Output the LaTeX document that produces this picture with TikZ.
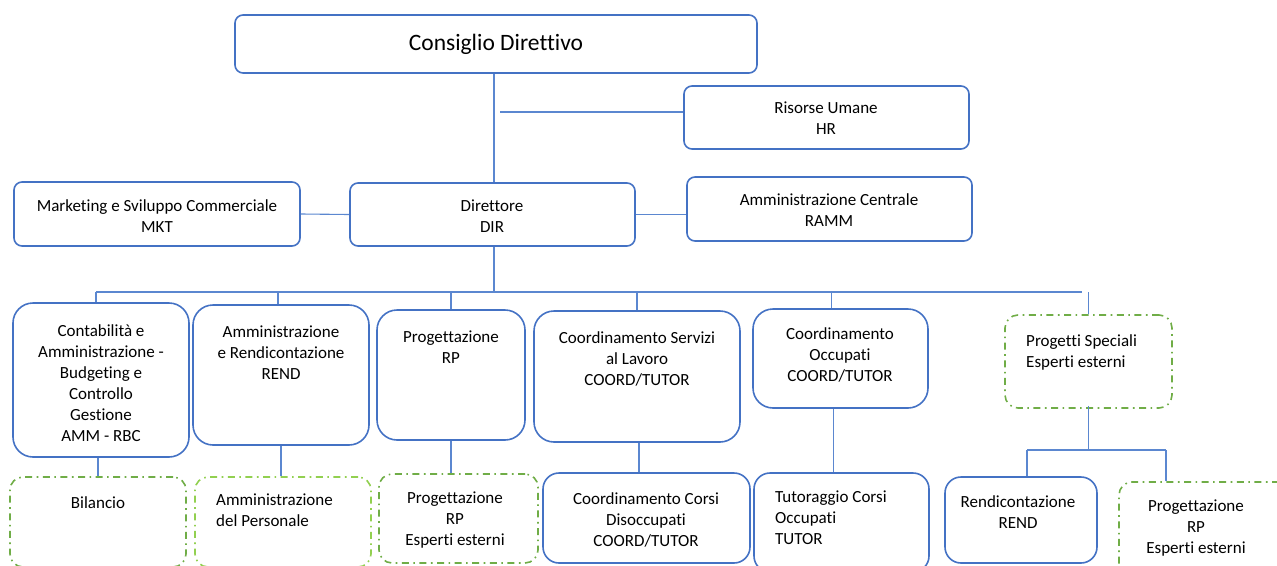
\documentclass[tikz,border=0pt]{standalone}
\usepackage{fontspec}
\setmainfont{Carlito}[Ligatures=NoCommon]
\usetikzlibrary{fit}
\definecolor{boxblue}{HTML}{4472C4}
\definecolor{lineblue}{HTML}{5B87D0}
\definecolor{boxgreen}{HTML}{70AD47}
\definecolor{lightgreen}{HTML}{92D050}
\begin{document}
\begin{tikzpicture}[x=1pt,y=-1pt,
  bluebox/.style={draw=boxblue, line width=1.6pt, rounded corners=#1, inner sep=0pt},
  bluebox/.default=16pt,
  greenbox/.style={draw=boxgreen, line width=1.6pt, rounded corners=13pt, inner sep=0pt,
     dash pattern=on 7pt off 4.5pt on 1.6pt off 4.5pt},
  lgreenbox/.style={greenbox, draw=lightgreen},
  conn/.style={draw=lineblue, line width=1.1pt},
  txt/.style={font=\fontsize{17}{21}\selectfont, align=center, inner sep=0pt, anchor=north,
     execute at begin node=\strut},
  ltxt/.style={txt, align=left, anchor=north west},
  bigtxt/.style={font=\fontsize{23.5}{28}\selectfont, inner sep=0pt, anchor=base}
]
\useasboundingbox (0,0) rectangle (1277,565);

% top level boxes
\node[bluebox=8pt, fit={(235,15) (757,73)}] (cons) {};
\node[bluebox=8pt, fit={(684,86) (969,149)}] (hr) {};
\node[bluebox=8pt, fit={(14,182) (300,246)}] (mkt) {};
\node[bluebox=8pt, fit={(350,183) (635,246)}] (dir) {};
\node[bluebox=8pt, fit={(687,177) (972,241)}] (ammc) {};

\node[bigtxt] (consT) at (496,50) {Consiglio Direttivo};
\node[txt] (hrT) at (826,102) {Risorse Umane\\HR};
\node[txt] (mktT) at (157,199) {Marketing e Sviluppo Commerciale\\MKT};
\node[txt] (dirT) at (492,200) {Direttore\\DIR};
\node[txt] (ammcT) at (829,193) {Amministrazione Centrale\\RAMM};

% second level boxes
\node[bluebox=20pt, fit={(13,303) (189,457)}] (cont) {};
\node[bluebox=20pt, fit={(193,305) (369,445)}] (rend) {};
\node[bluebox=20pt, fit={(377,310) (525,440)}] (prog) {};
\node[bluebox=20pt, fit={(534,311) (740,442)}] (cserv) {};
\node[bluebox=20pt, fit={(753,309) (928,408)}] (cocc) {};
\node[greenbox, fit={(1005,315) (1172,408)}] (pspec) {};

\node[txt] (contT) at (101,324) {Contabilità e\\Amministrazione -\\Budgeting e\\Controllo\\Gestione\\AMM - RBC};
\node[txt] (rendT) at (281,326) {Amministrazione\\e Rendicontazione\\REND};
\node[txt] (progT) at (451,331) {Progettazione\\RP};
\node[txt] (cservT) at (637,331) {Coordinamento Servizi\\al Lavoro\\COORD/TUTOR};
\node[txt] (coccT) at (840,327) {Coordinamento\\Occupati\\COORD/TUTOR};
\node[ltxt] (pspecT) at (1026,334) {Progetti Speciali\\Esperti esterni};

% third level boxes
\node[greenbox, fit={(10,477) (186,567)}] (bil) {};
\node[lgreenbox, fit={(195,477) (371,567)}] (apers) {};
\node[greenbox, fit={(379,474) (538,563)}] (plow) {};
\node[bluebox=16pt, fit={(543,473) (750,563)}] (ccorsi) {};
\node[bluebox=16pt, fit={(754,473) (929,572)}] (tut) {};
\node[bluebox=16pt, fit={(945,477) (1097,563)}] (rendb) {};
\node[greenbox, fit={(1119,482) (1292,578)}] (pright) {};

\node[txt] (bilT) at (98,494) {Bilancio};
\node[ltxt] (apersT) at (216,494) {Amministrazione\\del Personale};
\node[txt] (plowT) at (455,492) {Progettazione\\RP\\Esperti esterni};
\node[txt] (ccorsiT) at (646,492) {Coordinamento Corsi\\Disoccupati\\COORD/TUTOR};
\node[ltxt] (tutT) at (775,491) {Tutoraggio Corsi\\Occupati\\TUTOR};
\node[txt] (rendbT) at (1018,495) {Rendicontazione\\REND};
\node[txt] (prightT) at (1196,500) {Progettazione\\RP\\Esperti esterni};

% connectors top
\coordinate (hrj) at (500,112);
\coordinate (busL) at (96,292);
\coordinate (busR) at (1082,292);
\draw[conn] ([xshift=1.5pt]dir.north) -- ([xshift=1.5pt]dir.north |- cons.south);
\draw[conn] (hrj) -- (hrj -| hr.west);
\draw[conn] (mkt.east) -- (dir.west);
\draw[conn] (dir.east) -- (dir.east -| ammc.west);
\draw[conn] ([xshift=1.5pt]dir.south) -- ([xshift=1.5pt]dir.south |- busL);
\draw[conn] (busL) -- (busR);

% droppers to second level
\draw[conn] ([xshift=-5pt]cont.north) -- ([xshift=-5pt]cont.north |- busL);
\draw[conn] ([xshift=-3pt]rend.north) -- ([xshift=-3pt]rend.north |- busL);
\draw[conn] (prog.north) -- (prog.north |- busL);
\draw[conn] (cserv.north) -- (cserv.north |- busL);
\draw[conn] ([xshift=-9pt]cocc.north) -- ([xshift=-9pt]cocc.north |- busL);
\draw[conn] (pspec.north) -- (pspec.north |- busL);

% second to third level
\draw[conn] (bil.north) -- (bil.north |- cont.south);
\draw[conn] (rend.south) -- (rend.south |- apers.north);
\draw[conn] (prog.south) -- (prog.south |- plow.north);
\draw[conn] ([xshift=2pt]cserv.south) -- ([xshift=2pt]cserv.south |- ccorsi.north);
\draw[conn] ([xshift=-7pt]cocc.south) -- ([xshift=-7pt]cocc.south |- tut.north);

% progetti speciali branch
\coordinate (pbL) at (1027,450);
\coordinate (pbR) at (1166,450);
\draw[conn] ([yshift=3pt]pspec.south) -- (pspec.south |- pbL);
\draw[conn] (pbL) -- (pbR);
\draw[conn] (pbL) -- (pbL |- rendb.north);
\draw[conn] (pbR) -- (pbR |- pright.north);
\end{tikzpicture}
\end{document}
